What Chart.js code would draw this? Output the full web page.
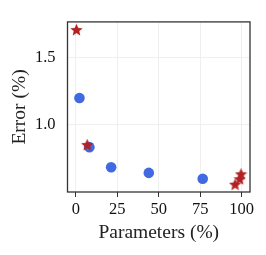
<!DOCTYPE html>
<html>
<head>
<meta charset="utf-8">
<script src="https://cdn.jsdelivr.net/npm/chart.js@4/dist/chart.umd.min.js"></script>
<style>
  html, body { margin: 0; padding: 0; background: #fff; }
  #wrap { width: 266px; height: 255px; }
</style>
</head>
<body>
<div id="wrap"><canvas id="chart"></canvas></div>
<script>
// values
const circleParams = [2.2, 8.2, 21.3, 44.0, 76.5];
const circleError = [1.20, 0.835, 0.686, 0.644, 0.600];
const starParams = [0.4, 6.9, 96.0, 98.8, 99.6];
const starError = [1.708, 0.854, 0.560, 0.600, 0.637];
const xTicks = [0, 25, 50, 75, 100];
const yTicks = [1.0, 1.5];

function starImage(size, color) {
  const c = document.createElement("canvas");
  c.width = size;
  c.height = size;
  const ctx = c.getContext("2d");
  const cx = size / 2, cy = size / 2 + size * 0.05;
  const outer = size / 2, inner = outer * 0.45;
  ctx.beginPath();
  for (let i = 0; i < 10; i++) {
    const r = i % 2 === 0 ? outer : inner;
    const a = -Math.PI / 2 + (i * Math.PI) / 5;
    const px = cx + r * Math.cos(a), py = cy + r * Math.sin(a);
    if (i === 0) ctx.moveTo(px, py); else ctx.lineTo(px, py);
  }
  ctx.closePath();
  ctx.fillStyle = color;
  ctx.fill();
  return c;
}

const boxPlugin = {
  id: "box",
  afterDraw(chart) {
    const { ctx, chartArea: a } = chart;
    ctx.save();
    ctx.strokeStyle = "#333";
    ctx.lineWidth = 1.3;
    ctx.strokeRect(a.left, a.top, a.right - a.left, a.bottom - a.top);
    ctx.restore();
  },
};

const font = "'Liberation Serif', 'DejaVu Serif', serif";

new Chart(document.getElementById("chart"), {
  type: "scatter",
  data: {
    datasets: [
      {
        label: "circles",
        data: circleParams.map((x, i) => ({ x, y: circleError[i] })),
        backgroundColor: "#4169e1",
        borderWidth: 0,
        pointRadius: 5.3,
        order: 2,
      },
      {
        label: "stars",
        data: starParams.map((x, i) => ({ x, y: starError[i] })),
        pointStyle: starImage(13, "#b22222"),
        order: 1,
      },
    ],
  },
  options: {
    responsive: true,
    maintainAspectRatio: false,
    animation: false,
    layout: { padding: { left: 8, right: 16, top: 11, bottom: 10 } },
    plugins: { legend: { display: false }, tooltip: { enabled: false } },
    scales: {
      x: {
        type: "linear",
        min: -5,
        max: 105,
        afterBuildTicks: (s) => { s.ticks = xTicks.map((v) => ({ value: v })); },
        afterFit: (s) => { s.height = 53; },
        grid: { color: "#efefef", tickColor: "#333", tickLength: 5, lineWidth: 1 },
        border: { display: false },
        ticks: { color: "#111", font: { family: font, size: 16.5 }, padding: 3 },
        title: { display: true, text: "Parameters (%)", color: "#222", font: { family: font, size: 19.5 }, padding: { top: 0, bottom: 0 } },
      },
      y: {
        type: "linear",
        min: 0.502,
        max: 1.765,
        afterBuildTicks: (s) => { s.ticks = yTicks.map((v) => ({ value: v })); },
        afterFit: (s) => { s.width = 59.5; },
        grid: { color: "#efefef", drawTicks: false, lineWidth: 1 },
        border: { display: false },
        ticks: { color: "#111", font: { family: font, size: 16.5 }, padding: 12, callback: (v) => v.toFixed(1) },
        title: { display: true, text: "Error (%)", color: "#222", font: { family: font, size: 19.5 }, padding: { top: 0, bottom: 0 } },
      },
    },
  },
  plugins: [boxPlugin],
});
</script>
</body>
</html>
